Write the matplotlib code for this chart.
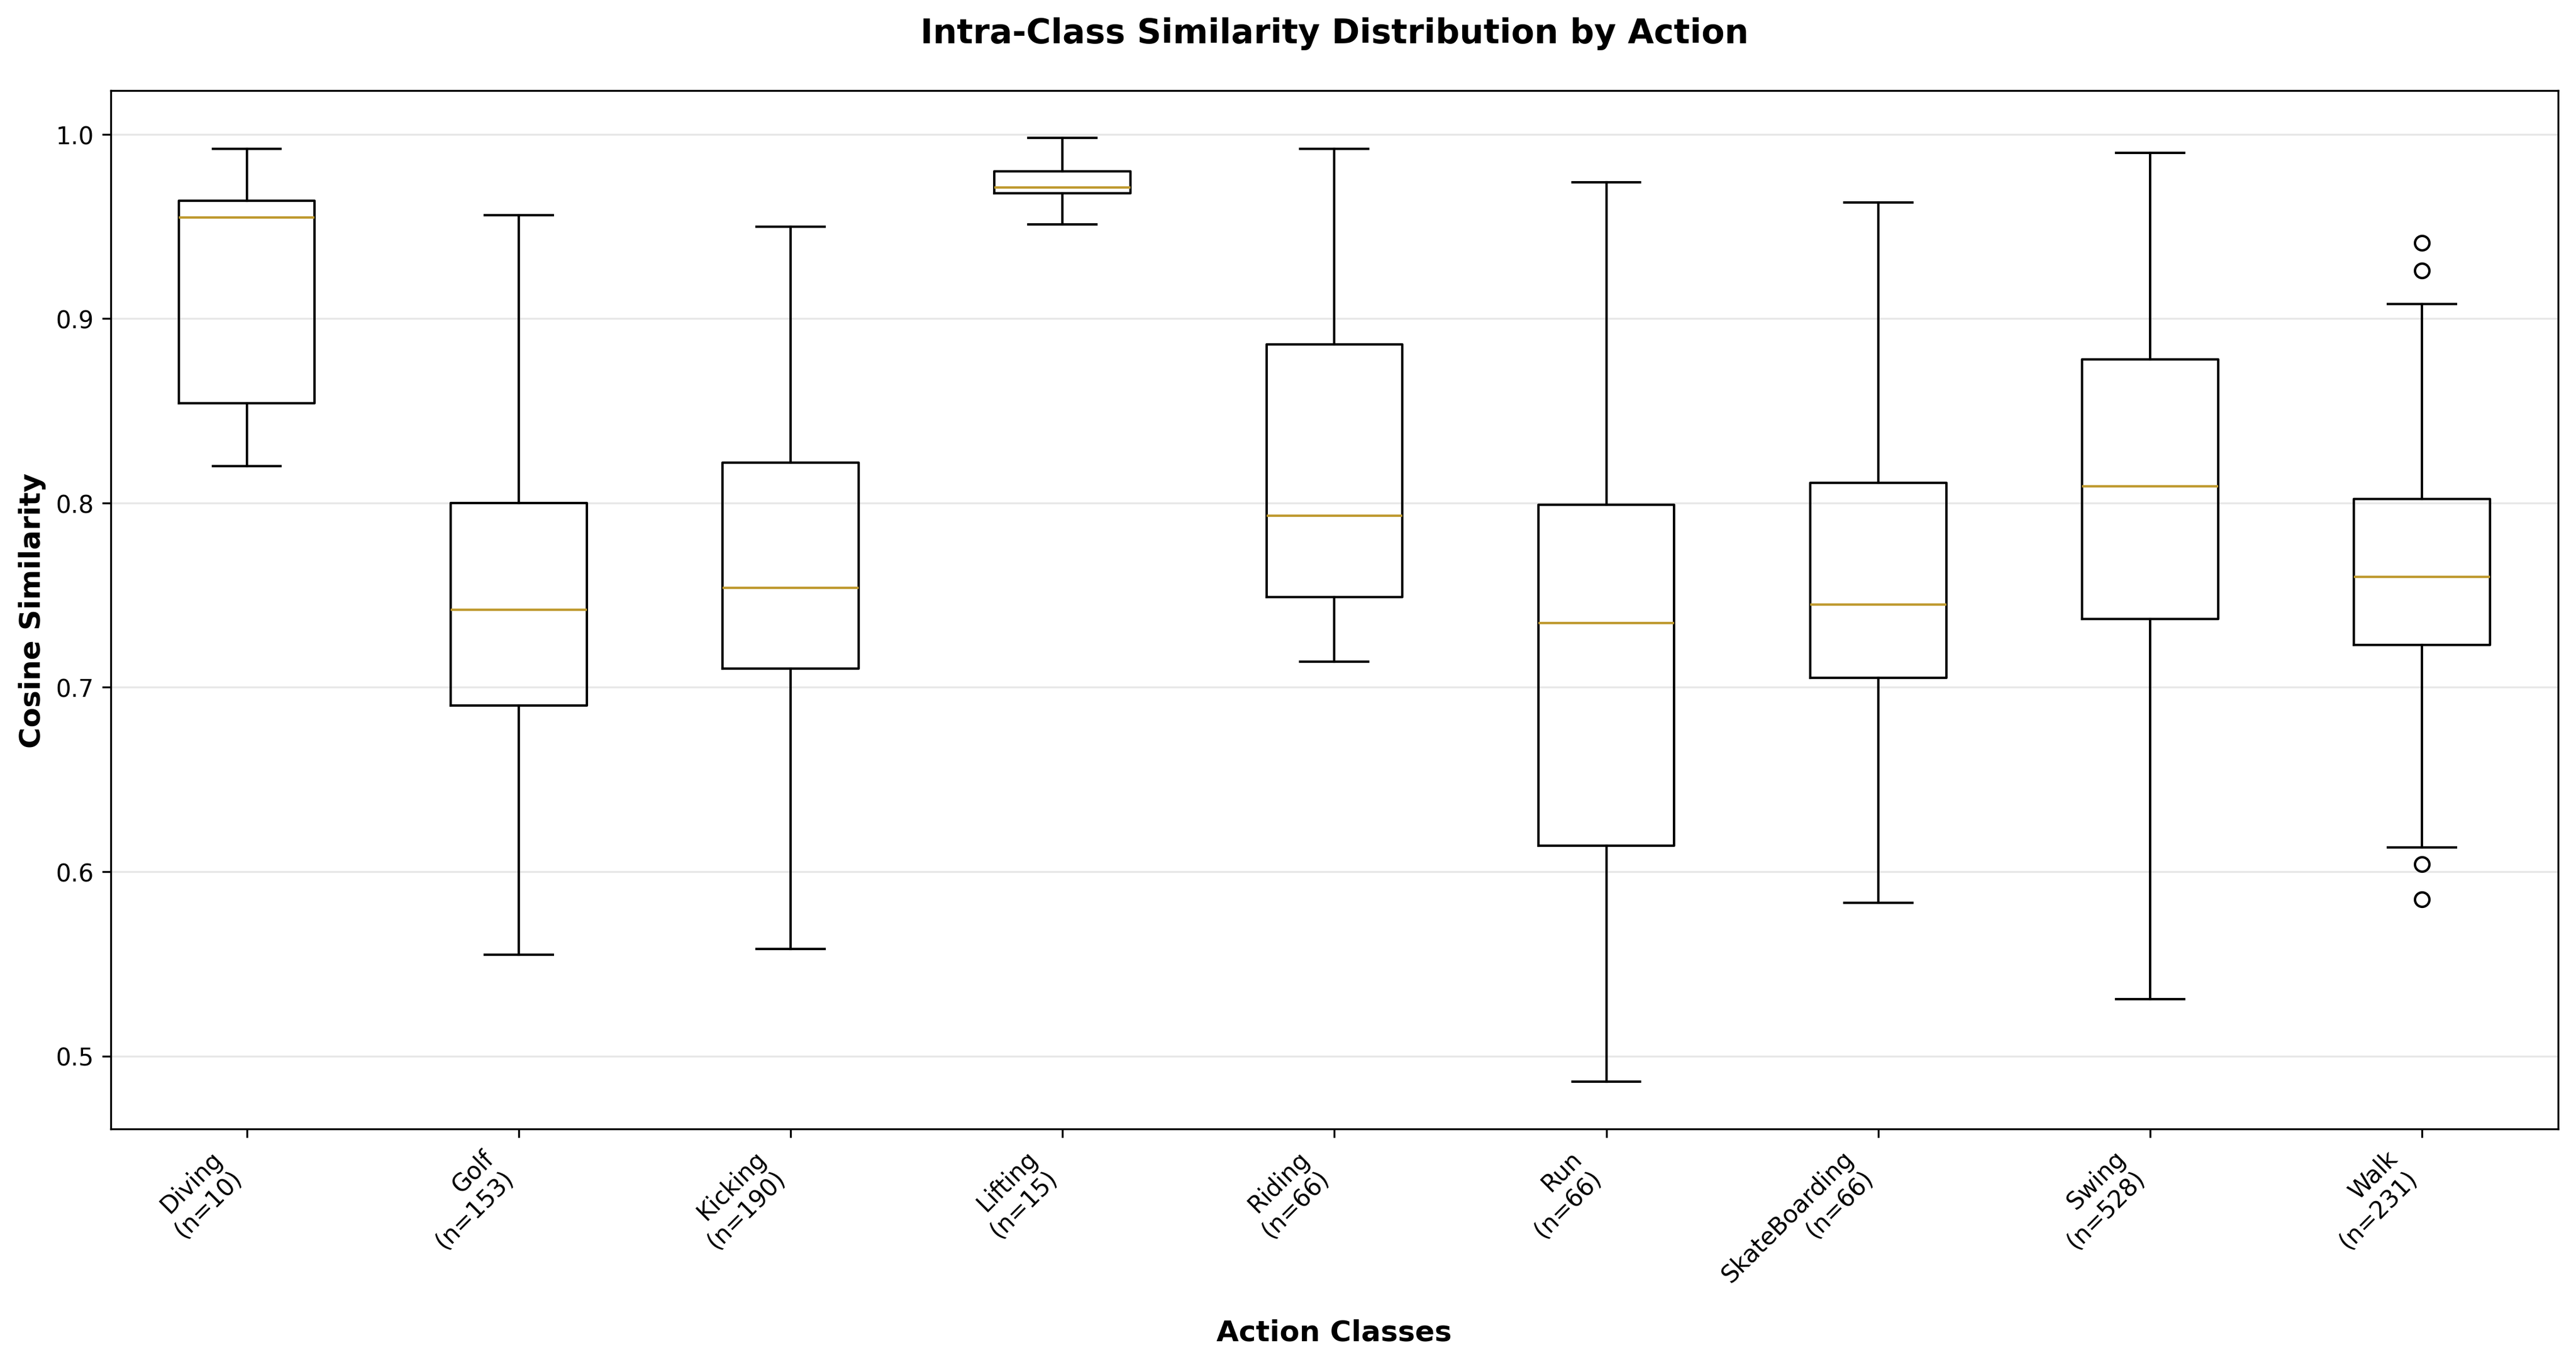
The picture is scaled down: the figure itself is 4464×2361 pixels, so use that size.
import matplotlib
matplotlib.use('Agg')
import matplotlib.pyplot as plt

# 每个动作类别的箱线统计
actions = ['Diving', 'Golf', 'Kicking', 'Lifting', 'Riding', 'Run', 'SkateBoarding', 'Swing', 'Walk']
counts = [10, 153, 190, 15, 66, 66, 66, 528, 231]

whis_lo = [0.820, 0.555, 0.558, 0.951, 0.714, 0.486, 0.583, 0.531, 0.613]
q1 = [0.854, 0.690, 0.710, 0.968, 0.749, 0.614, 0.705, 0.737, 0.723]
medians = [0.955, 0.742, 0.754, 0.971, 0.793, 0.735, 0.745, 0.809, 0.760]
q3 = [0.964, 0.800, 0.822, 0.980, 0.886, 0.799, 0.811, 0.878, 0.802]
whis_hi = [0.992, 0.956, 0.950, 0.998, 0.992, 0.974, 0.963, 0.990, 0.908]
outliers = [[], [], [], [], [], [], [], [], [0.941, 0.926, 0.604, 0.585]]

stats = []
for i, name in enumerate(actions):
    stats.append(dict(label=f'{name}\n(n={counts[i]})', whislo=whis_lo[i], q1=q1[i],
                      med=medians[i], q3=q3[i], whishi=whis_hi[i], fliers=outliers[i]))

fig, ax = plt.subplots(figsize=(14.88, 7.873), dpi=300)
fig.subplots_adjust(left=0.043, right=0.993, top=0.933, bottom=0.171)

ax.bxp(stats, positions=range(1, len(actions) + 1), widths=0.5,
       medianprops=dict(color='#BF9A30', linewidth=1.0))

ax.set_title('Intra-Class Similarity Distribution by Action', fontsize=14, fontweight='bold', pad=20)
ax.set_xlabel('Action Classes', fontsize=12, fontweight='bold', labelpad=5)
ax.set_ylabel('Cosine Similarity', fontsize=12, fontweight='bold')
ax.grid(True, axis='y', alpha=0.3)
ax.set_axisbelow(True)
plt.setp(ax.get_xticklabels(), rotation=45, ha='right', fontsize=10)
plt.setp(ax.get_yticklabels(), fontsize=10)

plt.savefig('out.png', dpi=300)
plt.close()
